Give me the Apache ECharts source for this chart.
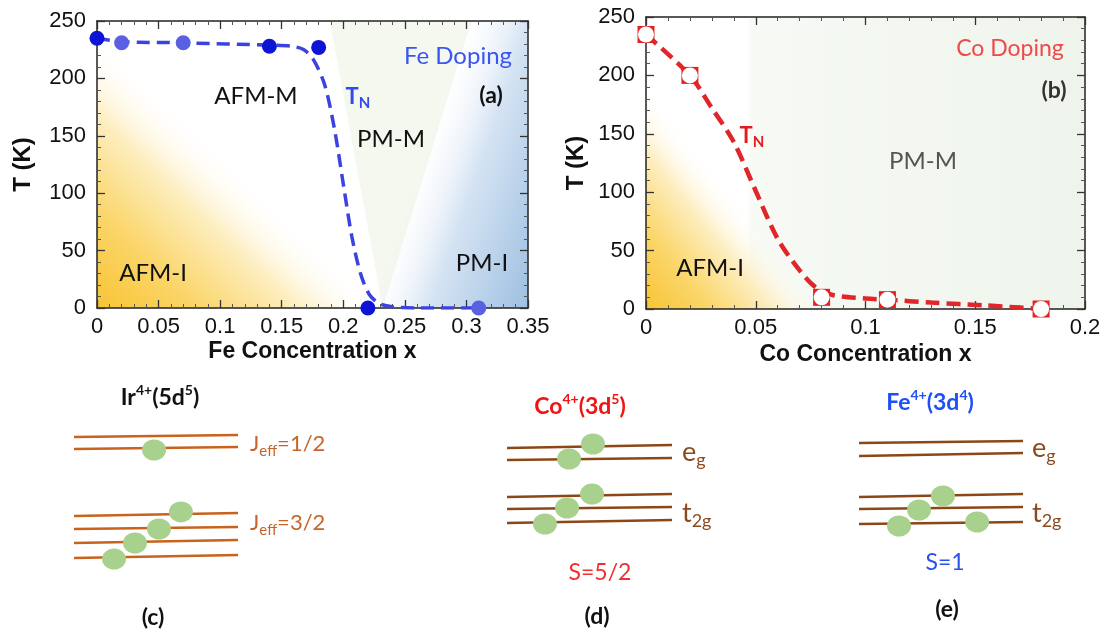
<!DOCTYPE html>
<html><head><meta charset="utf-8">
<script src="https://cdn.jsdelivr.net/npm/echarts@6/dist/echarts.min.js"></script>
<style>html,body{margin:0;padding:0;background:#fff}#c{width:1108px;height:639px}</style>
</head><body><div id="c"></div>
<script>
// ---------- data ----------
const feXTicks = [0, 0.05, 0.1, 0.15, 0.2, 0.25, 0.3, 0.35];
const coXTicks = [0, 0.05, 0.1, 0.15, 0.2];
const tYTicks = [0, 50, 100, 150, 200, 250];
// Fe doping: measured T_N points and guide curve
const feMarkers = [[0,235],[0.02,231],[0.07,231],[0.14,228],[0.18,227],[0.22,0],[0.31,0]];
const feMarkerDark = [true,false,false,true,true,true,false];
const feCurve = [[0,235],[0.02,232],[0.07,231],[0.14,229],[0.158,228],[0.168,225],[0.176,216],[0.185,194],[0.193,155],[0.2,108],[0.207,62],[0.214,30],[0.221,12],[0.229,4],[0.24,1],[0.26,0],[0.31,0]];
const feWedge = [[0.189,250],[0.304,250],[0.232,0]];
// Co doping
const coMarkers = [[0,235],[0.02,200],[0.08,10],[0.11,8],[0.18,0]];
const coCurve = [[0,235],[0.02,200],[0.03,172],[0.04,143],[0.05,101],[0.06,60],[0.07,33],[0.077,19],[0.085,12],[0.1,9],[0.11,8],[0.13,5.5],[0.155,3],[0.18,0]];
const coPMStart = 0.047;
// energy-level diagrams: [x1, E1, x2, E2] and electrons [x, E]
const levelsC = [[0,94.8,100,96.3],[0,85.9,100,87.4],[0,36.3,100,38.5],[0,26.7,100,28.1],[0,16.3,100,18.5],[0,5.2,100,7.4]];
const electronsC = [[48.8,85.2],[65.2,39.3],[51.8,26.7],[37.2,16.3],[24.4,4.4]];
const levelsD = [[0,82.9,100,85.7],[0,71.4,100,73.3],[0,36.2,100,39.0],[0,24.8,100,26.7],[0,11.4,100,14.3]];
const electronsD = [[52.1,86.7],[37.6,72.4],[51.5,39.0],[36.4,25.7],[23.0,10.5]];
const levelsE = [[0,87.6,100,89.5],[0,75.2,100,78.1],[0,36.2,100,39.0],[0,24.8,100,26.7],[0,10.5,100,12.4]];
const electronsE = [[51.2,37.1],[36.6,23.8],[24.4,8.6],[72.0,12.4]];

// ---------- styles ----------
const AX = '"Liberation Sans", Arial, sans-serif';
const UI = 'Lato, "Open Sans", sans-serif';
const chart = echarts.init(document.getElementById('c'), null, {renderer:'canvas'});

function mkX(grid, max, pos, name, gap) {
  const lab = pos === 'bottom';
  return {
    type:'value', gridIndex:grid, min:0, max:max, interval:0.05, position:pos, z:3,
    axisLine:{show:true, onZero:false, lineStyle:{color:'#222', width:1.5}},
    axisTick:{show:true, inside:true, length:8, lineStyle:{color:'#333', width:1.3}},
    minorTick:{show:true, splitNumber:5, length:4, lineStyle:{color:'#555', width:1}},
    splitLine:{show:false}, minorSplitLine:{show:false},
    axisLabel:{show:lab, fontSize:22, color:'#111', fontFamily:AX, margin:8,
      formatter:v => String(+v.toFixed(2))},
    name: lab ? name : '', nameLocation:'middle', nameGap:gap,
    nameTextStyle:{fontSize:23, fontWeight:'bold', color:'#111', fontFamily:AX}
  };
}
function mkY(grid, pos, gap) {
  const lab = pos === 'left';
  return {
    type:'value', gridIndex:grid, min:0, max:250, interval:50, position:pos, z:3,
    axisLine:{show:true, onZero:false, lineStyle:{color:'#222', width:1.5}},
    axisTick:{show:true, inside:true, length:8, lineStyle:{color:'#333', width:1.3}},
    minorTick:{show:true, splitNumber:5, length:4, lineStyle:{color:'#555', width:1}},
    splitLine:{show:false}, minorSplitLine:{show:false},
    axisLabel:{show:lab, fontSize:22, color:'#111', fontFamily:AX, margin:11},
    name: lab ? 'T (K)' : '', nameLocation:'middle', nameGap:gap,
    nameTextStyle:{fontSize:24, fontWeight:'bold', color:'#111', fontFamily:AX}
  };
}
function hid(grid){ return {type:'value', gridIndex:grid, min:0, max:100, show:false}; }

const stopsY = [{offset:0,color:'rgb(248,196,52)'},{offset:0.35,color:'rgb(250,213,104)'},{offset:0.7,color:'rgb(253,238,192)'},{offset:1,color:'rgba(255,255,255,0)'}];
const yellowA = {type:'linear', x:0, y:1, x2:0.32, y2:0.5, colorStops:stopsY};
const blueA = {type:'linear', x:1, y:1, x2:0.654, y2:0.819, colorStops:[{offset:0,color:'rgb(158,192,226)'},{offset:0.6,color:'rgb(214,228,243)'},{offset:1,color:'rgba(255,255,255,0)'}]};
const yellowB = {type:'linear', x:0, y:1, x2:0.25, y2:0.7, colorStops:stopsY};
const greenB = {type:'linear', x:0, y:0, x2:1, y2:0, colorStops:[{offset:0,color:'rgb(247,250,245)'},{offset:1,color:'rgb(238,244,235)'}]};

function bgA(params, api) {
  const a = api.coord([0,250]), b = api.coord([0.35,0]);
  const r = {x:a[0], y:a[1], width:b[0]-a[0], height:b[1]-a[1]};
  return {type:'group', children:[
    {type:'rect', shape:r, style:{fill:yellowA}},
    {type:'rect', shape:r, style:{fill:blueA}},
    {type:'polygon', shape:{points:feWedge.map(p=>api.coord(p))}, style:{fill:'rgba(236,243,228,0.6)'}}
  ]};
}
function bgB(params, api) {
  const a = api.coord([0,250]), b = api.coord([0.2,0]), g = api.coord([coPMStart,250]);
  const r = {x:a[0], y:a[1], width:b[0]-a[0], height:b[1]-a[1]};
  return {type:'group', children:[
    {type:'rect', shape:{x:g[0], y:a[1], width:b[0]-g[0], height:b[1]-a[1]}, style:{fill:greenB}},
    {type:'rect', shape:r, style:{fill:yellowB}}
  ]};
}

function levelSeries(grid, levels, color) {
  return {type:'lines', coordinateSystem:'cartesian2d', xAxisIndex:grid+2, yAxisIndex:grid+2, silent:true, z:4,
    lineStyle:{color:color, width:2.6, opacity:1, curveness:0},
    data: levels.map(l => ({coords:[[l[0],l[1]],[l[2],l[3]]]}))};
}
function elecSeries(grid, pts) {
  return {type:'scatter', xAxisIndex:grid+2, yAxisIndex:grid+2, silent:true, z:5,
    symbol:'circle', symbolSize:[24,21], itemStyle:{color:'#a9d18e', opacity:1}, data:pts};
}

// text helpers
function txt(x, y, text, rich, align) {
  return {type:'text', x:x, y:y, z:50, silent:true, style:{text:text, rich:rich, align:align||'center', verticalAlign:'middle'}};
}
function plain(x, y, s, size, color, weight, align) {
  return {type:'text', x:x, y:y, z:50, silent:true, style:{text:s, fontSize:size, fontFamily:UI, fontWeight:weight||'normal', fill:color, align:align||'center', verticalAlign:'middle'}};
}
function supRich(color) {
  return {b:{fontSize:23, fontWeight:'bold', fontFamily:UI, fill:color, lineHeight:30},
          p:{fontSize:14, fontWeight:'bold', fontFamily:UI, fill:color, lineHeight:17, verticalAlign:'top'}};
}
function subRich(color, big, small) {
  return {b:{fontSize:big, fontFamily:UI, fill:color, lineHeight:big+8},
          s:{fontSize:small, fontFamily:UI, fill:color, lineHeight:small, verticalAlign:'bottom'}};
}
const tnRich = c => ({b:{fontSize:22, fontWeight:'bold', fontFamily:UI, fill:c, lineHeight:28},
  s:{fontSize:15, fontWeight:'bold', fontFamily:UI, fill:c, lineHeight:14, verticalAlign:'bottom'}});

const option = {
  animation:false,
  backgroundColor:'#ffffff',
  grid:[
    {left:97, top:21, width:431, height:287},
    {left:646, top:17, width:439, height:292},
    {left:74, top:430, width:164, height:135},
    {left:507, top:430, width:165, height:105},
    {left:859, top:430, width:164, height:105}
  ],
  xAxis:[
    mkX(0, 0.35, 'bottom', 'Fe Concentration x', 32), mkX(0, 0.35, 'top'),
    mkX(1, 0.2, 'bottom', 'Co Concentration x', 34), mkX(1, 0.2, 'top'),
    hid(2), hid(3), hid(4)
  ],
  yAxis:[
    mkY(0,'left',62), mkY(0,'right'),
    mkY(1,'left',58), mkY(1,'right'),
    hid(2), hid(3), hid(4)
  ],
  series:[
    {type:'custom', xAxisIndex:0, yAxisIndex:0, silent:true, z:1, data:[[0,0]], renderItem:bgA, clip:false},
    {type:'custom', xAxisIndex:2, yAxisIndex:2, silent:true, z:1, data:[[0,0]], renderItem:bgB, clip:false},
    {type:'line', name:'Fe TN guide', xAxisIndex:0, yAxisIndex:0, data:feCurve, smooth:0.3, symbol:'none', z:5,
      lineStyle:{color:'#3c42e0', width:3.5, type:[13,7]}},
    {type:'scatter', name:'Fe TN', xAxisIndex:0, yAxisIndex:0, data:feMarkers, symbolSize:15, z:6,
      itemStyle:{opacity:1, color:p => feMarkerDark[p.dataIndex] ? '#0d14d6' : '#5a60e4'}},
    {type:'line', name:'Co TN guide', xAxisIndex:2, yAxisIndex:2, data:coCurve, smooth:0.3, symbol:'none', z:5,
      lineStyle:{color:'#e0262a', width:4.5, type:[14,7]}},
    {type:'scatter', name:'Co TN box', xAxisIndex:2, yAxisIndex:2, data:coMarkers, symbol:'rect', symbolSize:17, z:6,
      itemStyle:{color:'#e52222', opacity:1}},
    {type:'scatter', name:'Co TN', xAxisIndex:2, yAxisIndex:2, data:coMarkers, symbol:'circle', symbolSize:16, z:7,
      itemStyle:{color:'#ffffff', opacity:1}},
    levelSeries(2, levelsC, '#c8621c'), elecSeries(2, electronsC),
    levelSeries(3, levelsD, '#8c4716'), elecSeries(3, electronsD),
    levelSeries(4, levelsE, '#8c4716'), elecSeries(4, electronsE)
  ],
  graphic:[
    // panel (a)
    plain(458, 56, 'Fe Doping', 24, '#3a56f2'),
    plain(491, 96, '(a)', 23, '#111', 'bold'),
    plain(256, 96, 'AFM-M', 24, '#111'),
    txt(358, 97, '{b|T}{s|N}', tnRich('#3448ee')),
    plain(391, 139, 'PM-M', 24, '#111'),
    plain(482, 263, 'PM-I', 24, '#111'),
    plain(153, 273, 'AFM-I', 24, '#111'),
    // panel (b)
    plain(1010, 49, 'Co Doping', 23, '#ef4a4a'),
    plain(1054, 91, '(b)', 23, '#333', 'bold'),
    txt(752, 136, '{b|T}{s|N}', tnRich('#e01e1e')),
    plain(923, 161, 'PM-M', 24, '#555'),
    plain(710, 268, 'AFM-I', 24, '#111'),
    // panel (c)
    txt(160, 398, '{b|Ir}{p|4+}{b|(5d}{p|5}{b|)}', supRich('#111')),
    txt(250, 444, '{b|J}{s|eff}{b|=1/2}', subRich('#c8642a', 22, 15), 'left'),
    txt(250, 523, '{b|J}{s|eff}{b|=3/2}', subRich('#c8642a', 22, 15), 'left'),
    plain(153, 618, '(c)', 23, '#111', 'bold'),
    // panel (d)
    txt(580, 407, '{b|Co}{p|4+}{b|(3d}{p|5}{b|)}', supRich('#f01414')),
    txt(682, 452, '{b|e}{s|g}', subRich('#8b4a1e', 27, 18), 'left'),
    txt(682, 513, '{b|t}{s|2g}', subRich('#8b4a1e', 27, 18), 'left'),
    plain(600, 573, 'S=5/2', 23, '#f03030'),
    plain(597, 617, '(d)', 23, '#111', 'bold'),
    // panel (e)
    txt(930, 403, '{b|Fe}{p|4+}{b|(3d}{p|4}{b|)}', supRich('#1f4ff5')),
    txt(1032, 448, '{b|e}{s|g}', subRich('#8b4a1e', 27, 18), 'left'),
    txt(1032, 513, '{b|t}{s|2g}', subRich('#8b4a1e', 27, 18), 'left'),
    plain(945, 563, 'S=1', 23, '#2a50f0'),
    plain(947, 610, '(e)', 23, '#111', 'bold')
  ]
};
chart.setOption(option);
</script>
</body></html>
